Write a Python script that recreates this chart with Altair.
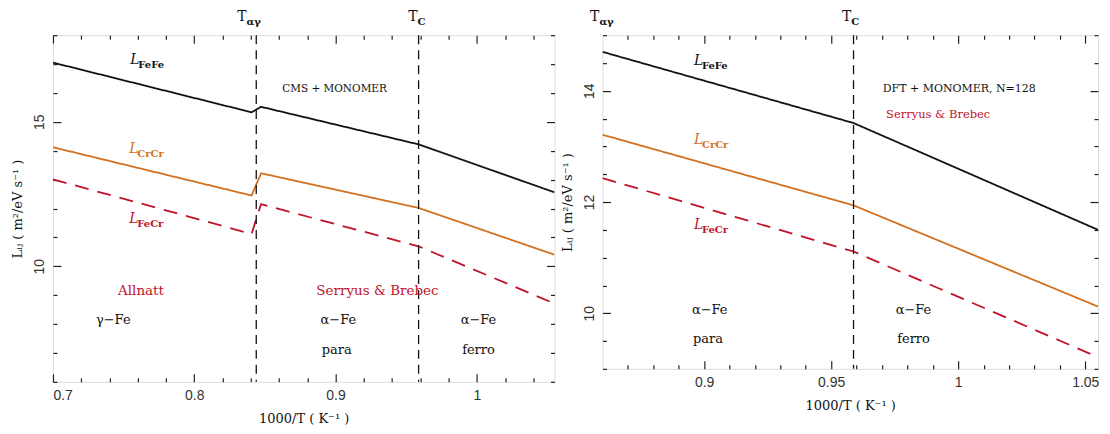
import altair as alt
import pandas as pd

# ---------------- data: left panel (CMS + MONOMER) ----------------
left_x = [0.70, 0.8406, 0.8473, 0.9588, 1.055]
left_fefe = [17.05, 15.33, 15.52, 14.22, 12.56]
left_crcr = [14.12, 12.45, 13.22, 12.02, 10.40]
left_fecr = [13.01, 11.12, 12.15, 10.69, 8.71]
left_vlines = [0.8439, 0.9588]

# ---------------- data: right panel (DFT + MONOMER) ----------------
right_x = [0.86, 0.9588, 1.055]
right_fefe = [14.70, 13.42, 11.50]
right_crcr = [13.21, 11.94, 10.12]
right_fecr = [12.43, 11.11, 9.21]
right_vlines = [0.9588]

series_names = ["FeFe", "CrCr", "FeCr"]
series_colors = ["#111111", "#d2711f", "#c0132b"]
series_dash = [[1, 0], [1, 0], [14, 9]]

# axis ticks
left_xmajor = [0.7, 0.8, 0.9, 1.0]
left_xminor = [0.72, 0.74, 0.76, 0.78, 0.82, 0.84, 0.86, 0.88, 0.92, 0.94, 0.96, 0.98, 1.02, 1.04]
left_ymajor = [10, 15]
left_yminor = [6, 7, 8, 9, 11, 12, 13, 14, 16, 17, 18]
right_xmajor = [0.9, 0.95, 1.0, 1.05]
right_xminor = [0.87, 0.88, 0.89, 0.91, 0.92, 0.93, 0.94, 0.96, 0.97, 0.98, 0.99, 1.01, 1.02, 1.03, 1.04]
right_ymajor = [10, 12, 14]
right_yminor = [9, 9.5, 10.5, 11, 11.5, 12.5, 13, 13.5, 14.5, 15]

# annotations
left_sym_x = [0.7547, 0.754, 0.754]
left_sym_y = [17.13, 14.05, 11.62]
right_sym_x = [0.896, 0.896, 0.896]
right_sym_y = [14.53, 13.12, 11.59]

left_txt = ["CMS + MONOMER", "Allnatt", "Serryus & Brebec", "γ−Fe", "α−Fe", "para", "α−Fe", "ferro"]
left_txt_x = [0.8993, 0.7623, 0.9297, 0.7427, 0.902, 0.9008, 1.0012, 1.0012]
left_txt_y = [16.14, 9.13, 9.13, 8.13, 8.13, 7.11, 8.13, 7.11]
left_txt_col = ["#111111", "#c0132b", "#c0132b", "#111111", "#111111", "#111111", "#111111", "#111111"]
left_txt_size = [10.5, 13.5, 13.5, 13, 13, 13, 13, 13]

right_txt = ["DFT + MONOMER, N=128", "Serryus & Brebec", "α−Fe", "para", "α−Fe", "ferro"]
right_txt_x = [1.0004, 0.9921, 0.9022, 0.9015, 0.9824, 0.9824]
right_txt_y = [14.04, 13.56, 10.06, 9.53, 10.06, 9.53]
right_txt_col = ["#111111", "#c0132b", "#111111", "#111111", "#111111", "#111111"]
right_txt_size = [11, 11.5, 13, 13, 13, 13]

left_top_x = [0.837, 0.958]
left_top_y = [18.62, 18.62]
right_top_x = [0.8588, 0.9579]
right_top_y = [15.32, 15.32]
top_sub = ["αγ", "C"]

SERIF = "DejaVu Serif"
SANS = "Liberation Sans"
FRAME = "#222222"


def build_panel(xs, ys_list, vlines, xdom, ydom, xmaj, xmin_, ymaj, ymin_,
                sym_x, sym_y, txt, txt_x, txt_y, txt_col, txt_size,
                top_x, top_y, w, h):
    rows = []
    for name, ys in zip(series_names, ys_list):
        for i, (a, b) in enumerate(zip(xs, ys)):
            rows.append({"x": a, "y": b, "s": name, "i": i})
    df = pd.DataFrame(rows)
    xsc = alt.Scale(domain=xdom, nice=False, zero=False)
    ysc = alt.Scale(domain=ydom, nice=False, zero=False)

    def X(**kw):
        return alt.X("x:Q", scale=xsc, axis=None, **kw)

    def Y(**kw):
        return alt.Y("y:Q", scale=ysc, axis=None, **kw)

    main_x_axis = alt.Axis(values=xmaj, format="~g", ticks=False, domain=False, grid=False,
                           labelFont=SANS, labelFontSize=14, labelColor="#333333",
                           labelPadding=7, title="1000/T ( K⁻¹ )", titleFont=SERIF,
                           titleFontSize=13, titleFontWeight="normal", titleColor="#111111",
                           titlePadding=10)
    main_y_axis = alt.Axis(values=ymaj, format="d", ticks=False, domain=False, grid=False,
                           labelFont=SANS, labelFontSize=14, labelColor="#333333",
                           labelAngle=270, labelAlign="center", labelBaseline="bottom",
                           labelPadding=6, title="Lᵢⱼ ( m²/eV s⁻¹ )", titleFont=SERIF,
                           titleFontSize=13, titleFontWeight="normal", titleColor="#111111",
                           titlePadding=8)

    lines = alt.Chart(df).mark_line(strokeWidth=1.8, clip=True).encode(
        x=alt.X("x:Q", scale=xsc, axis=main_x_axis),
        y=alt.Y("y:Q", scale=ysc, axis=main_y_axis),
        color=alt.Color("s:N", scale=alt.Scale(domain=series_names, range=series_colors), legend=None),
        strokeDash=alt.StrokeDash("s:N", scale=alt.Scale(domain=series_names, range=series_dash), legend=None),
        order="i:Q",
    )

    def ticks(orient_x, orient_y, xv, yv, size):
        return alt.Chart(df).mark_point(opacity=0).encode(
            x=alt.X("x:Q", scale=xsc, axis=alt.Axis(orient=orient_x, values=xv, labels=False, domain=False,
                                                     grid=False, title=None, tickSize=size, offset=-size,
                                                     tickColor=FRAME, tickWidth=1.2)),
            y=alt.Y("y:Q", scale=ysc, axis=alt.Axis(orient=orient_y, values=yv, labels=False, domain=False,
                                                     grid=False, title=None, tickSize=size, offset=-size,
                                                     tickColor=FRAME, tickWidth=1.2)),
        )

    t1 = ticks("bottom", "left", xmaj, ymaj, 8)
    t2 = ticks("bottom", "left", xmin_, ymin_, 4)
    t3 = ticks("top", "right", xmaj, ymaj, 8)
    t4 = ticks("top", "right", xmin_, ymin_, 4)

    vdf = pd.DataFrame({"x": vlines})
    vl = alt.Chart(vdf).mark_rule(color="#111111", strokeWidth=1.3, strokeDash=[9, 6]).encode(x=X())

    sdf = pd.DataFrame({"x": sym_x, "y": sym_y, "sub": series_names, "c": series_colors})
    sym_L = alt.Chart(sdf).mark_text(font=SERIF, fontSize=14, fontStyle="italic", align="left",
                                     baseline="middle", text="L").encode(
        x=X(), y=Y(), color=alt.Color("c:N", scale=None))
    sym_s = alt.Chart(sdf).mark_text(font=SERIF, fontSize=10, fontWeight="bold", align="left",
                                     baseline="middle", dx=8, dy=5).encode(
        x=X(), y=Y(), text="sub:N", color=alt.Color("c:N", scale=None))

    tdf = pd.DataFrame({"x": txt_x, "y": txt_y, "t": txt, "c": txt_col, "fs": txt_size})
    texts = alt.Chart(tdf).mark_text(font=SERIF, align="center", baseline="middle").encode(
        x=X(), y=Y(), text="t:N",
        color=alt.Color("c:N", scale=None), size=alt.Size("fs:Q", scale=None))

    topdf = pd.DataFrame({"x": top_x, "y": top_y, "sub": top_sub})
    top_T = alt.Chart(topdf).mark_text(font=SERIF, fontSize=14, align="right", baseline="middle",
                                       text="T", color="#111111").encode(x=X(), y=Y())
    top_s = alt.Chart(topdf).mark_text(font=SERIF, fontSize=10, fontWeight="bold", align="left",
                                       baseline="middle", dx=0, dy=5, color="#111111").encode(
        x=X(), y=Y(), text="sub:N")

    return alt.layer(lines, vl, t1, t2, t3, t4, sym_L, sym_s, texts, top_T, top_s).resolve_axis(
        x="independent", y="independent").properties(width=w, height=h)


left = build_panel(left_x, [left_fefe, left_crcr, left_fecr], left_vlines, [0.7, 1.055], [6, 18],
                   left_xmajor, left_xminor, left_ymajor, left_yminor,
                   left_sym_x, left_sym_y, left_txt, left_txt_x, left_txt_y, left_txt_col, left_txt_size,
                   left_top_x, left_top_y, 502, 347)
right = build_panel(right_x, [right_fefe, right_crcr, right_fecr], right_vlines, [0.86, 1.055], [9, 15],
                    right_xmajor, right_xminor, right_ymajor, right_yminor,
                    right_sym_x, right_sym_y, right_txt, right_txt_x, right_txt_y, right_txt_col, right_txt_size,
                    right_top_x, right_top_y, 496, 334)

chart = alt.hconcat(left, right, spacing=48, bounds="flush").properties(
    padding={"left": 3, "top": 1, "right": 0, "bottom": 0}
).configure_view(stroke=FRAME, strokeWidth=1.5).configure(background="white")

chart.save("out.html", embed_options={"renderer": "svg", "actions": False})
